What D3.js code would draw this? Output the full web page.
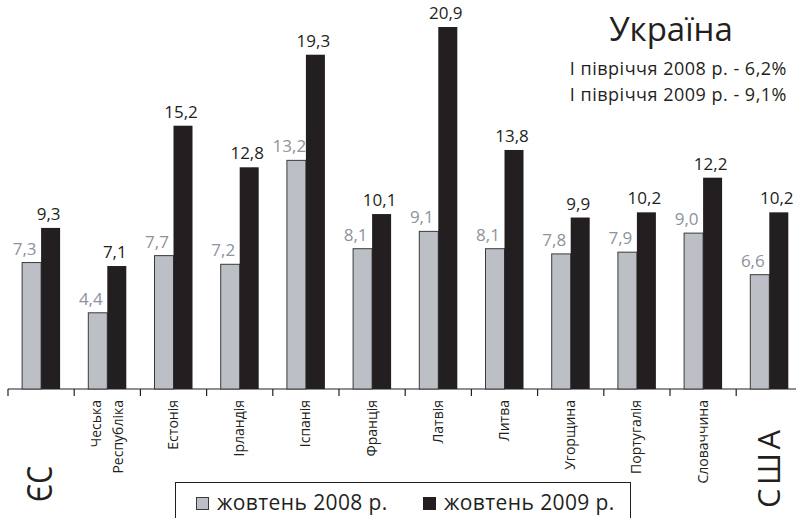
<!DOCTYPE html>
<html><head><meta charset="utf-8">
<script src="https://cdn.jsdelivr.net/npm/d3@7"></script>
<style>body{margin:0;background:#fff}svg{display:block}text{font-family:"Open Sans",sans-serif}</style>
</head><body>
<script>
const categories = ["ЄС","Чеська Республіка","Естонія","Ірландія","Іспанія","Франція","Латвія","Литва","Угорщина","Португалія","Словаччина","США"];
const oct2008 = [7.3,4.4,7.7,7.2,13.2,8.1,9.1,8.1,7.8,7.9,9.0,6.6];
const oct2009 = [9.3,7.1,15.2,12.8,19.3,10.1,20.9,13.8,9.9,10.2,12.2,10.2];
const seriesNames = ["жовтень 2008 р.","жовтень 2009 р."];
const titleText = "Україна";
const noteLines = ["І півріччя 2008 р. - 6,2%","І півріччя 2009 р. - 9,1%"];

const W=796,H=518;
const svg=d3.select("body").append("svg").attr("width",W).attr("height",H);
const x=d3.scaleBand().domain(categories).range([8,8+66.2*12]).padding(0);
const y=d3.scaleLinear().domain([0,20.9]).range([389,27]);
const bw=19;
const fmt=v=>d3.format(".1f")(v).replace(".",",");
const gray="#bcc0c6", grayText="#8c939c", black="#231f20";

// axis
svg.append("line").attr("x1",8).attr("x2",W).attr("y1",389).attr("y2",389).attr("stroke","#231f20").attr("stroke-width",1.2);
svg.selectAll(".tk").data(categories).enter().append("line")
  .attr("x1",d=>x(d)).attr("x2",d=>x(d)).attr("y1",389).attr("y2",396).attr("stroke","#231f20").attr("stroke-width",1.2);

const g=svg.selectAll(".grp").data(categories).enter().append("g");
g.append("rect").attr("x",d=>x(d)+x.bandwidth()/2-bw).attr("width",bw)
  .attr("y",(d,i)=>y(oct2008[i])).attr("height",(d,i)=>389-y(oct2008[i]))
  .attr("fill",gray).attr("stroke","#3a3a3a").attr("stroke-width",1);
g.append("rect").attr("x",d=>x(d)+x.bandwidth()/2).attr("width",bw)
  .attr("y",(d,i)=>y(oct2009[i])).attr("height",(d,i)=>389-y(oct2009[i]))
  .attr("fill",black);
g.append("text").attr("x",d=>x(d)+x.bandwidth()/2-bw/2-7).attr("y",(d,i)=>y(oct2008[i])-8)
  .attr("text-anchor","middle").attr("font-size",17).attr("fill",grayText).text((d,i)=>fmt(oct2008[i]));
g.append("text").attr("x",d=>x(d)+x.bandwidth()/2+bw/2-2).attr("y",(d,i)=>y(oct2009[i])-8)
  .attr("text-anchor","middle").attr("font-size",17).attr("fill",black).text((d,i)=>fmt(oct2009[i]));

// category labels
categories.forEach((c,i)=>{
  const cx=x(c)+x.bandwidth()/2;
  if(i===0){
    svg.append("text").attr("transform",`translate(52,502) rotate(-90)`)
      .attr("font-size",35).attr("fill",black).attr("textLength",36).attr("lengthAdjust","spacingAndGlyphs").text(c);
  } else if(i===categories.length-1){
    svg.append("text").attr("transform",`translate(780,508) rotate(-90)`)
      .attr("font-size",31).attr("fill",black).attr("textLength",78).attr("lengthAdjust","spacing").text(c);
  } else {
    const parts=c.split(" ");
    const n=parts.length;
    parts.forEach((p,k)=>{
      const lx=cx+(k-(n-1)/2)*22+4.5;
      svg.append("text").attr("transform",`translate(${lx},400) rotate(-90)`)
        .attr("text-anchor","end").attr("font-size",14).attr("fill",black).text(p);
    });
  }
});

// title block
svg.append("text").attr("x",671).attr("y",41).attr("text-anchor","middle").attr("font-size",33).attr("fill",black).text(titleText);
noteLines.forEach((t,i)=>svg.append("text").attr("x",787).attr("y",75+i*26).attr("text-anchor","end").attr("font-size",18).attr("letter-spacing",0.5).attr("fill",black).text(t));

// legend
svg.append("rect").attr("x",175.5).attr("y",482.5).attr("width",455).attr("height",50).attr("fill","#fff").attr("stroke","#231f20").attr("stroke-width",1);
const lx=[196,423];
seriesNames.forEach((s,i)=>{
  svg.append("rect").attr("x",lx[i]+0.5).attr("y",497.5).attr("width",12).attr("height",12)
    .attr("fill",i?black:gray).attr("stroke",i?black:"#3a3a3a");
  svg.append("text").attr("x",lx[i]+21).attr("y",510).attr("font-size",21).attr("letter-spacing",0.4).attr("fill",black).text(s);
});
</script>
</body></html>
